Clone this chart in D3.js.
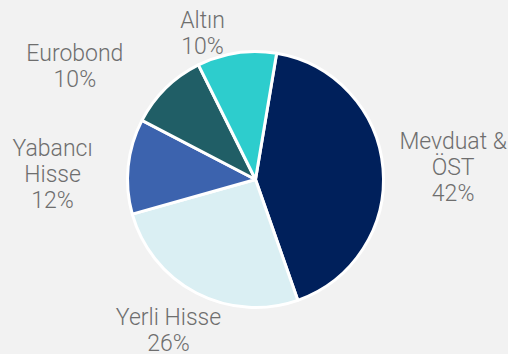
<html>
<head>
  <script src="https://d3js.org/d3.v7.min.js"></script>
  <style>
    body { margin: 0; background: #f2f2f2; }
    .label { font-family: Roboto, sans-serif; font-weight: 300; font-size: 23px; fill: #6e6e6e; }
  </style>
</head>
<body>
  <svg id="pie" width="508" height="354"></svg>
  <script>
    // data
    const categories = [["Mevduat &", "ÖST"], ["Yerli Hisse"], ["Yabancı", "Hisse"], ["Eurobond"], ["Altın"]];
    const shares = [42, 26, 12, 10, 10];
    const colors = ["#00205b", "#daeff3", "#3c63ae", "#205e66", "#2dcdcd"];

    // label placement: angle (deg, clockwise from top) and distance from centre
    const labelAngle = [86.5, 210, 271.4, 302, 340];
    const labelDist = [198, 174, 203, 213, 155];

    const svg = d3.select("#pie");
    const cx = 255.5, cy = 179.5, radius = 128;
    const g = svg.append("g").attr("transform", `translate(${cx},${cy})`);

    const start = 9.5 * Math.PI / 180;
    const pie = d3.pie().sort(null).value(d => d)
                  .startAngle(start).endAngle(start + 2 * Math.PI);
    const arc = d3.arc().innerRadius(0).outerRadius(radius);

    const slices = pie(shares);
    g.selectAll("path.slice")
     .data(slices)
     .join("path")
     .attr("class", "slice")
     .attr("d", arc)
     .attr("fill", (d, i) => colors[i])
     .attr("stroke", "#fff")
     .attr("stroke-width", 3)
     .attr("stroke-linejoin", "round");

    const lineH = 26;
    slices.forEach((d, i) => {
      const a = labelAngle[i] * Math.PI / 180;
      const x = Math.sin(a) * labelDist[i];
      const y = -Math.cos(a) * labelDist[i];
      const lines = categories[i].concat([shares[i] + "%"]);
      const top = y - (lines.length - 1) * lineH / 2 + 7.5;
      const t = g.append("text").attr("class", "label").attr("text-anchor", "middle");
      lines.forEach((s, k) => {
        t.append("tspan").attr("x", x).attr("y", top + k * lineH).text(s);
      });
    });
  </script>
</body>
</html>
